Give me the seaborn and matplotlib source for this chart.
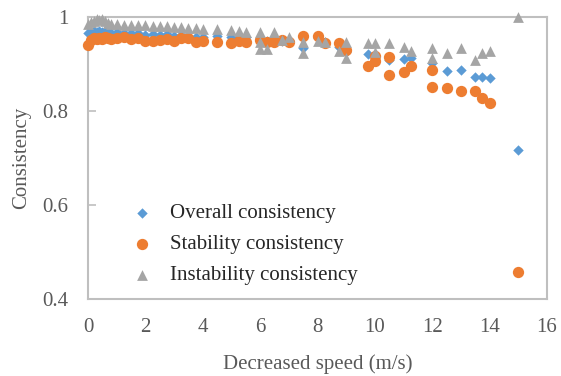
import numpy as np
import pandas as pd
import matplotlib
matplotlib.use("Agg")
import matplotlib.pyplot as plt
import seaborn as sns

# Decreased speed (m/s); repeated speeds carry extra runs (NaN = no point for that series)
speed = [0.0, 0.1, 0.2, 0.3, 0.4, 0.5, 0.6, 0.7, 0.8, 1.0, 1.25, 1.5, 1.75,
         2.0, 2.25, 2.5, 2.75, 3.0, 3.25, 3.5, 3.75, 4.0, 4.5, 5.0, 5.25, 5.5,
         6.0, 6.0, 6.0, 6.25, 6.5, 6.75, 7.0, 7.5, 7.5, 8.0, 8.25, 8.75,
         9.0, 9.0, 9.75, 10.0, 10.0, 10.5, 10.5, 11.0, 11.25, 12.0, 12.0,
         12.5, 13.0, 13.5, 13.75, 14.0, 15.0]

overall = [0.965, 0.968, 0.970, 0.968, 0.970, 0.969, 0.970, 0.968, 0.967, 0.968,
           0.967, 0.966, 0.965, 0.962, 0.963, 0.962, 0.963, 0.960, 0.962, 0.960,
           0.958, 0.957, 0.960, 0.958, 0.958, 0.957,
           0.955, np.nan, np.nan, 0.950, 0.957, 0.950, 0.952, 0.934, np.nan,
           0.955, 0.946, 0.936, 0.925, np.nan, 0.921, 0.918, np.nan, 0.909,
           np.nan, 0.911, 0.913, 0.902, np.nan, 0.885, 0.887, 0.872, 0.872,
           0.870, 0.718]

stability = [0.940, 0.952, 0.955, 0.953, 0.956, 0.954, 0.957, 0.955, 0.953, 0.955,
             0.957, 0.953, 0.955, 0.950, 0.948, 0.952, 0.954, 0.948, 0.956, 0.955,
             0.946, 0.948, 0.946, 0.944, 0.948, 0.947,
             0.951, np.nan, np.nan, 0.947, 0.947, 0.951, 0.947, 0.960, np.nan,
             0.960, 0.945, 0.945, 0.930, np.nan, 0.896, 0.906, 0.917, 0.877,
             0.915, 0.883, 0.896, 0.887, 0.851, 0.849, 0.843, 0.843, 0.828,
             0.817, 0.457]

instability = [0.985, 0.990, 0.992, 0.995, 0.993, 0.996, 0.992, 0.988, 0.986, 0.985,
               0.984, 0.984, 0.983, 0.982, 0.981, 0.981, 0.980, 0.979, 0.978, 0.977,
               0.976, 0.975, 0.974, 0.973, 0.970, 0.968,
               0.968, 0.947, 0.932, 0.932, 0.968, 0.951, 0.957, 0.947, 0.923,
               0.949, 0.947, 0.928, 0.947, 0.913, 0.945, 0.945, 0.926, 0.945,
               np.nan, 0.936, 0.928, 0.934, 0.913, 0.923, 0.934, 0.909, 0.923,
               0.928, 1.000]

series_labels = ["Overall consistency", "Stability consistency", "Instability consistency"]
x_ticks = [0, 2, 4, 6, 8, 10, 12, 14, 16]
y_ticks = [0.4, 0.6, 0.8, 1.0]
y_tick_labels = ["0.4", "0.6", "0.8", "1"]

df = pd.DataFrame({"speed": speed, "overall": overall,
                   "stability": stability, "instability": instability})

sns.set_theme(style="white")
plt.rcParams["font.family"] = ["Liberation Serif", "DejaVu Serif"]

fig = plt.figure(figsize=(5.61, 3.76), dpi=100)
ax = fig.add_axes([88 / 561, 1 - 299 / 376, 459 / 561, 282 / 376])

styles = [
    ("overall", "#5B9BD5", "D", 28),
    ("stability", "#ED7D31", "o", 66),
    ("instability", "#A5A5A5", "^", 60),
]
for (col, color, marker, size), label in zip(styles, series_labels):
    sub = df[["speed", col]].dropna()
    sns.scatterplot(data=sub, x="speed", y=col, ax=ax, color=color, marker=marker,
                    s=size, linewidth=0, label=label, clip_on=False, zorder=3)

ax.set_xlim(0, 16)
ax.set_ylim(0.4, 1.0)
ax.set_xticks(x_ticks)
ax.set_yticks(y_ticks)
ax.set_yticklabels(y_tick_labels)

text_color = "#595959"
for side in ["left", "right", "top", "bottom"]:
    ax.spines[side].set_visible(True)
    ax.spines[side].set_color("#BFBFBF")
    ax.spines[side].set_linewidth(1.5)

ax.tick_params(axis="y", direction="in", length=6, width=1.2, color="#BFBFBF",
               labelsize=15, labelcolor=text_color, pad=14, left=True)
ax.tick_params(axis="x", length=0, labelsize=15, labelcolor=text_color, pad=14)

ax.set_xlabel("Decreased speed (m/s)", fontsize=15, color=text_color, labelpad=12)
ax.set_ylabel("Consistency", fontsize=15, color=text_color, labelpad=8)

leg = ax.legend(loc="center left", bbox_to_anchor=(0.076, 0.193), frameon=False,
                fontsize=15, handlelength=1.0, handletextpad=0.85,
                labelspacing=0.55, borderaxespad=0)
for t in leg.get_texts():
    t.set_color("#262626")

fig.savefig("out.png", dpi=100)
